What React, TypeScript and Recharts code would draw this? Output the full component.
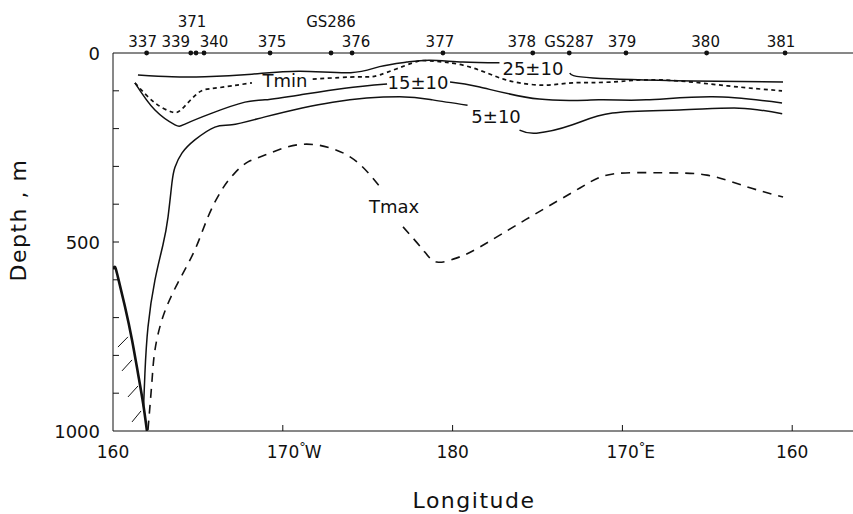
import { LineChart, Line, XAxis, YAxis, ReferenceLine, ReferenceDot, Label } from 'recharts';

const FONT = '"DejaVu Sans", sans-serif';
const INK = '#111';

// stations along the section, x = degrees from the left edge (160 W)
const stationNames = ['337', '339', '371', '340', '375', 'GS286', '376', '377', '378', 'GS287', '379', '380', '381'];
const stationLon = [1.98, 4.58, 4.89, 5.36, 9.25, 12.84, 14.08, 19.43, 24.72, 26.87, 30.21, 34.96, 39.58];
const upperRow = ['371', 'GS286'];
// label nudges where names crowd together (layout only)
const labelDx: Record<string, number> = {
  '337': -4, '339': -15, '371': -4, '340': 10, '375': 2, '376': 4,
  '377': -3, '378': -11, '379': -4, '380': -1, '381': -4,
};

const lonTicks = [0, 10, 20, 30, 40];
const lonTickLabels = ['160', '170', '180', '170', '160'];
const lonTickHemi = ['', 'W', '', 'E', ''];

const depthTicks = [0, 100, 200, 300, 400, 500, 600, 700, 800, 900, 1000];
const depthLabels = [0, 500, 1000];

// isolines, depth in m (null = gap under the label)
const iso25 = [
  { x: 1.47, y: 58 }, { x: 3.47, y: 63 }, { x: 5.41, y: 63 }, { x: 8.18, y: 56 },
  { x: 11.0, y: 48 }, { x: 14.0, y: 52 }, { x: 15.7, y: 36 }, { x: 17.3, y: 24 },
  { x: 18.65, y: 19 }, { x: 20.6, y: 24 }, { x: 22.76, y: 26 }, { x: 24.7, y: null },
  { x: 26.9, y: 53 }, { x: 28.27, y: 66 }, { x: 34.16, y: 74 }, { x: 39.46, y: 77 },
];

const tmin = [
  { x: 1.29, y: 79 }, { x: 2.47, y: 132 }, { x: 3.47, y: 156 }, { x: 4.06, y: 148 },
  { x: 5.0, y: 106 }, { x: 6.0, y: 93 }, { x: 8.18, y: 79 }, { x: 10.1, y: null },
  { x: 11.76, y: 69 }, { x: 14.53, y: 63 }, { x: 15.7, y: 58 }, { x: 17.65, y: 26 },
  { x: 18.65, y: 21 }, { x: 20.6, y: 32 }, { x: 22.6, y: 63 }, { x: 23.94, y: 79 },
  { x: 25.5, y: 85 }, { x: 27.06, y: 79 }, { x: 29.27, y: 77 }, { x: 32.2, y: 71 },
  { x: 36.2, y: 87 }, { x: 39.4, y: 100 },
];

const iso15 = [
  { x: 1.29, y: 79 }, { x: 2.47, y: 151 }, { x: 3.65, y: 190 }, { x: 4.24, y: 188 },
  { x: 5.83, y: 159 }, { x: 7.77, y: 130 }, { x: 8.95, y: 124 }, { x: 11.0, y: 111 },
  { x: 13.65, y: 93 }, { x: 16.14, y: 82 }, { x: 18.0, y: null }, { x: 19.85, y: 77 },
  { x: 21.6, y: 90 }, { x: 25.1, y: 122 }, { x: 28.6, y: 124 }, { x: 31.4, y: 124 },
  { x: 35.3, y: 116 }, { x: 39.4, y: 132 },
];

const iso5 = [
  { x: 1.8, y: 935 }, { x: 1.88, y: 847 }, { x: 2.06, y: 725 }, { x: 2.47, y: 601 },
  { x: 2.94, y: 508 }, { x: 3.24, y: 434 }, { x: 3.47, y: 344 }, { x: 3.65, y: 302 },
  { x: 4.06, y: 265 }, { x: 4.82, y: 230 }, { x: 6.0, y: 196 }, { x: 7.0, y: 190 },
  { x: 8.95, y: 169 }, { x: 12.94, y: 130 }, { x: 16.88, y: 116 }, { x: 18.82, y: 124 },
  { x: 20.88, y: 138 }, { x: 22.5, y: null }, { x: 23.94, y: 204 }, { x: 24.94, y: 212 },
  { x: 27.06, y: 190 }, { x: 29.41, y: 159 }, { x: 33.35, y: 151 }, { x: 36.88, y: 146 },
  { x: 39.41, y: 161 },
];

const tmax = [
  { x: 2.06, y: 997 }, { x: 2.3, y: 865 }, { x: 2.47, y: 786 }, { x: 2.94, y: 698 },
  { x: 3.82, y: 608 }, { x: 4.82, y: 521 }, { x: 5.59, y: 434 }, { x: 6.41, y: 362 },
  { x: 7.18, y: 317 }, { x: 7.95, y: 288 }, { x: 8.95, y: 270 }, { x: 10.84, y: 243 },
  { x: 12.78, y: 251 }, { x: 14.37, y: 288 }, { x: 15.72, y: 354 }, { x: 16.5, y: null },
  { x: 17.08, y: 460 }, { x: 18.26, y: 521 }, { x: 19.08, y: 553 }, { x: 20.26, y: 542 },
  { x: 21.61, y: 513 }, { x: 24.56, y: 434 }, { x: 27.5, y: 357 }, { x: 29.45, y: 320 },
  { x: 32.39, y: 317 }, { x: 34.98, y: 323 }, { x: 37.34, y: 354 }, { x: 39.46, y: 381 },
];

const bottom = [
  { x: 0, y: 572 }, { x: 0.12, y: 566 }, { x: 0.29, y: 593 }, { x: 0.71, y: 672 },
  { x: 1.12, y: 759 }, { x: 1.47, y: 847 }, { x: 1.77, y: 926 }, { x: 2.0, y: 1000 },
];

// hatching under the sea floor
const hatch = [
  [{ x: 0.29, y: 778 }, { x: 0.88, y: 751 }],
  [{ x: 0.53, y: 841 }, { x: 1.12, y: 812 }],
  [{ x: 0.88, y: 910 }, { x: 1.47, y: 881 }],
  [{ x: 1.12, y: 976 }, { x: 1.65, y: 947 }],
];

const lineLabels = ['Tmin', '15±10', '25±10', '5±10', 'Tmax'];
const lineLabelLon = [10.13, 17.96, 24.73, 22.56, 16.55];
const lineLabelDepth = [74, 79, 42, 169, 407];

function BottomTick({ x, y, payload }: any) {
  const i = lonTicks.indexOf(payload.value);
  const hemi = lonTickHemi[i];
  return (
    <g>
      {payload.value !== 0 && <line x1={x} y1={y} x2={x} y2={y - 6} stroke={INK} strokeWidth={1} />}
      {hemi ? (
        <text x={x - 16} y={y + 27} fontSize={17} fontFamily={FONT} fill={INK}>
          {lonTickLabels[i]}
          <tspan dy={-7} fontSize={13}>°</tspan>
          <tspan dx={-1} dy={7}>{hemi}</tspan>
        </text>
      ) : (
        <text x={x} y={y + 27} textAnchor="middle" fontSize={17} fontFamily={FONT} fill={INK}>{lonTickLabels[i]}</text>
      )}
    </g>
  );
}

function LeftTick({ x, y, payload }: any) {
  const v = payload.value;
  return (
    <g>
      {v !== 0 && v !== 1000 && <line x1={x} y1={y} x2={x + 6} y2={y} stroke={INK} />}
      {depthLabels.includes(v) && (
        <text x={x - 13} y={y + 6.5} textAnchor="end" fontSize={18} fontFamily={FONT} fill={INK}>{v}</text>
      )}
    </g>
  );
}

function RightTick({ x, y, payload }: any) {
  const v = payload.value;
  if (v === 0 || v === 1000) return <g />;
  return <line x1={x} y1={y} x2={x - 6} y2={y} stroke={INK} />;
}

function StationTick({ x, y, payload }: any) {
  const i = stationLon.indexOf(payload.value);
  const name = stationNames[i];
  const up = upperRow.includes(name);
  return (
    <g>
      <circle cx={x} cy={y} r={2.4} fill={INK} />
      <text x={x + (labelDx[name] || 0)} y={up ? y - 26 : y - 6} textAnchor="middle" fontSize={15} fontFamily={FONT} fill={INK}>
        {name}
      </text>
    </g>
  );
}

export default function App() {
  return (
    <div style={{ position: 'absolute', left: 0, top: 0, width: 853, height: 514, overflow: 'hidden', background: '#fff' }}>
      <LineChart width={853} height={514} margin={{ top: 0, right: 0, bottom: 0, left: 0 }}>
        <XAxis
          xAxisId={0} type="number" dataKey="x" domain={[0, 43.58]} allowDataOverflow
          ticks={lonTicks} interval={0} height={83} tickSize={0} tickMargin={0}
          tickLine={false} axisLine={{ stroke: INK }} tick={<BottomTick />}
        >
          <Label
            content={({ viewBox }: any) => (
              <text x={viewBox.x + viewBox.width / 2 - 9} y={viewBox.y + 77} textAnchor="middle"
                fontSize={22} letterSpacing={1.5} fontFamily={FONT} fill={INK}>
                Longitude
              </text>
            )}
          />
        </XAxis>
        <XAxis
          xAxisId="top" orientation="top" type="number" dataKey="x" domain={[0, 43.58]} allowDataOverflow
          ticks={stationLon} interval={0} height={53} tickSize={0} tickMargin={0}
          tickLine={false} axisLine={{ stroke: INK }} tick={<StationTick />}
        />
        <YAxis
          yAxisId={0} type="number" domain={[0, 1000]} reversed allowDataOverflow
          ticks={depthTicks} interval={0} width={113} tickSize={0} tickMargin={0}
          tickLine={false} axisLine={{ stroke: INK }} tick={<LeftTick />}
        >
          <Label
            content={({ viewBox }: any) => {
              const cx = viewBox.x + 26;
              const cy = viewBox.y + viewBox.height / 2 - 22;
              return (
                <text x={cx} y={cy} transform={`rotate(-90 ${cx} ${cy})`} textAnchor="middle"
                  fontSize={22} letterSpacing={1.5} fontFamily={FONT} fill={INK}>
                  Depth , m
                </text>
              );
            }}
          />
        </YAxis>
        <YAxis
          yAxisId="right" orientation="right" type="number" domain={[0, 1000]} reversed allowDataOverflow
          ticks={depthTicks} interval={0} width={0} tickSize={0} tickMargin={0}
          tickLine={false} axisLine={false} tick={<RightTick />}
        />

        <Line data={iso25} dataKey="y" type="natural" stroke={INK} strokeWidth={1.5} dot={false} activeDot={false} isAnimationActive={false} />
        <Line data={tmin} dataKey="y" type="natural" stroke={INK} strokeWidth={1.7} strokeDasharray="4 3.5" dot={false} activeDot={false} isAnimationActive={false} />
        <Line data={iso15} dataKey="y" type="natural" stroke={INK} strokeWidth={1.5} dot={false} activeDot={false} isAnimationActive={false} />
        <Line data={iso5} dataKey="y" type="natural" stroke={INK} strokeWidth={1.5} dot={false} activeDot={false} isAnimationActive={false} />
        <Line data={tmax} dataKey="y" type="natural" stroke={INK} strokeWidth={1.6} strokeDasharray="9 7" dot={false} activeDot={false} isAnimationActive={false} />
        <Line data={bottom} dataKey="y" type="natural" stroke={INK} strokeWidth={2.6} dot={false} activeDot={false} isAnimationActive={false} />

        {hatch.map((seg, i) => (
          <ReferenceLine key={i} segment={seg} stroke={INK} strokeWidth={1} ifOverflow="visible" />
        ))}

        {lineLabels.map((t, i) => (
          <ReferenceDot
            key={t} x={lineLabelLon[i]} y={lineLabelDepth[i]} r={0} ifOverflow="visible"
            shape={(p: any) => (
              <text x={p.cx} y={p.cy} dy={6.5} textAnchor="middle" fontSize={18} fontFamily={FONT} fill={INK}>{t}</text>
            )}
          />
        ))}
      </LineChart>
    </div>
  );
}
